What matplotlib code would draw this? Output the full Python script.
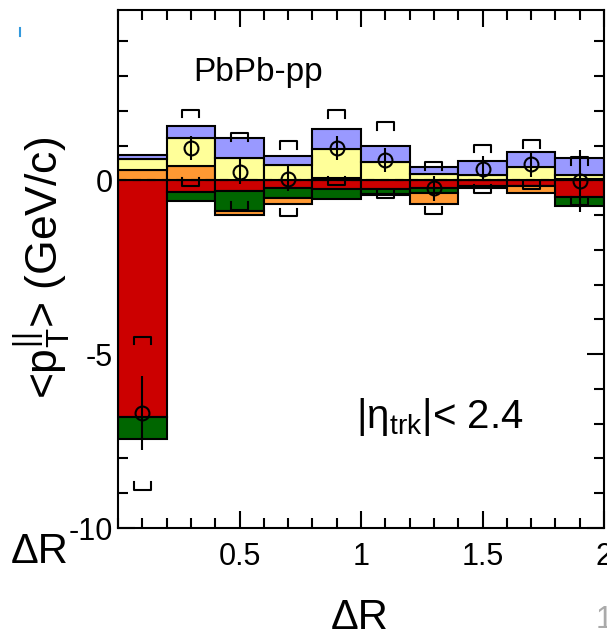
import matplotlib
matplotlib.use('Agg')
import matplotlib.pyplot as plt
from matplotlib.lines import Line2D
from matplotlib.ticker import MultipleLocator, FixedLocator

plt.rcParams['font.family'] = ['Liberation Sans', 'DejaVu Sans']
plt.rcParams['mathtext.fontset'] = 'custom'
plt.rcParams['mathtext.rm'] = 'Liberation Sans'
plt.rcParams['mathtext.it'] = 'Liberation Sans:italic'

# bin edges in Delta R
dr_left = [0.0, 0.2, 0.4, 0.6, 0.8, 1.0, 1.2, 1.4, 1.6, 1.8]
dr_center = [0.1, 0.3, 0.5, 0.7, 0.9, 1.1, 1.3, 1.5, 1.7, 1.9]

# track pT range contributions (GeV/c), stacked in this order
pt_labels = ['8-300', '4-8', '2-4', '1-2', '0.5-1']
pt_colors = ['#cc0000', '#006600', '#ff9933', '#ffff99', '#9999ff']
red_vals = [-6.82, -0.34, -0.31, -0.23, -0.24, -0.26, -0.21, -0.15, -0.16, -0.47]
green_vals = [-0.62, -0.25, -0.57, -0.27, -0.31, -0.14, -0.14, -0.06, -0.01, -0.27]
orange_vals = [0.30, 0.41, -0.12, -0.17, 0.08, -0.02, -0.32, 0.0, -0.19, 0.04]
yellow_vals = [0.32, 0.82, 0.65, 0.43, 0.83, 0.53, 0.17, 0.14, 0.39, 0.10]
blue_vals = [0.11, 0.33, 0.56, 0.27, 0.58, 0.46, 0.22, 0.41, 0.43, 0.51]

# total with errors
total = [-6.70, 0.94, 0.25, 0.05, 0.94, 0.58, -0.23, 0.34, 0.46, -0.02]
stat_err = [1.07, 0.35, 0.35, 0.35, 0.35, 0.35, 0.35, 0.35, 0.35, 0.90]
syst_err = [2.20, 1.09, 1.10, 1.08, 1.07, 1.09, 0.75, 0.69, 0.70, 0.69]

fig = plt.figure(figsize=(6.07, 6.41), dpi=100)
ax = fig.add_axes([118 / 607, 1 - 528 / 641, 486 / 607, 518 / 641])

components = [red_vals, green_vals, orange_vals, yellow_vals, blue_vals]
pos_base = [0.0] * len(dr_left)
neg_base = [0.0] * len(dr_left)
for vals, col, lab in zip(components, pt_colors, pt_labels):
    bottoms = []
    for i, v in enumerate(vals):
        if v >= 0:
            bottoms.append(pos_base[i])
            pos_base[i] += v
        else:
            bottoms.append(neg_base[i])
            neg_base[i] += v
    ax.bar(dr_left, vals, width=0.2, bottom=bottoms, align='edge',
           color=col, edgecolor='black', linewidth=1.5, label=lab, zorder=2)

ax.axhline(0, color='black', ls='--', lw=1.5, dashes=(4, 3), zorder=3)

# stat errors and markers
ax.errorbar(dr_center, total, yerr=stat_err, fmt='o', mfc='none', mec='black',
            ms=10, mew=1.5, ecolor='black', elinewidth=1.5, capsize=0, zorder=5)

# systematic brackets
bw = 0.035
bd = 0.22
for x, y, s in zip(dr_center, total, syst_err):
    top = y + s
    bot = y - s
    ax.plot([x - bw, x - bw, x + bw, x + bw], [top - bd, top, top, top - bd],
            color='black', lw=1.5, zorder=5)
    ax.plot([x - bw, x - bw, x + bw, x + bw], [bot + bd, bot, bot, bot + bd],
            color='black', lw=1.5, zorder=5)

ax.set_xlim(0, 2)
ax.set_ylim(-10, 4.9)
ax.xaxis.set_major_locator(FixedLocator([0.5, 1.0, 1.5, 2.0]))
ax.xaxis.set_minor_locator(MultipleLocator(0.1))
ax.set_xticklabels(['0.5', '1', '1.5', '2'])
ax.yaxis.set_major_locator(FixedLocator([-10, -5, 0]))
ax.yaxis.set_minor_locator(MultipleLocator(1))
ax.set_yticklabels(['-10', '-5', '0'])
ax.tick_params(which='both', direction='in', top=True, right=True,
               width=1.5, labelsize=22)
ax.tick_params(which='major', length=12)
ax.tick_params(which='minor', length=7)
ax.tick_params(axis='x', pad=10)
for sp in ax.spines.values():
    sp.set_linewidth(1.5)

ax.text(0.155, 0.88, 'PbPb-pp', transform=ax.transAxes, fontsize=24, va='center')
ax.text(0.49, 0.215, r'|η$_{\rm trk}$|< 2.4', transform=ax.transAxes,
        fontsize=29, va='center')

fig.text(42 / 607, 1 - 268 / 641, r'<$\rm p_{T}^{||}$> (GeV/c)', rotation=90,
         ha='center', va='center', fontsize=32)
fig.text(360 / 607, 1 - 618 / 641, 'ΔR', ha='center', va='center', fontsize=30)
fig.text(40 / 607, 1 - 552 / 641, 'ΔR', ha='center', va='center', fontsize=30)
fig.text(596 / 607, 1 - 620 / 641, '1', ha='left', va='center', fontsize=22,
         color='#aaaaaa')
fig.add_artist(Line2D([20 / 607, 20 / 607], [1 - 28 / 641, 1 - 36 / 641],
                      color='#3399dd', lw=1.5))

fig.savefig('out.png', dpi=100)
